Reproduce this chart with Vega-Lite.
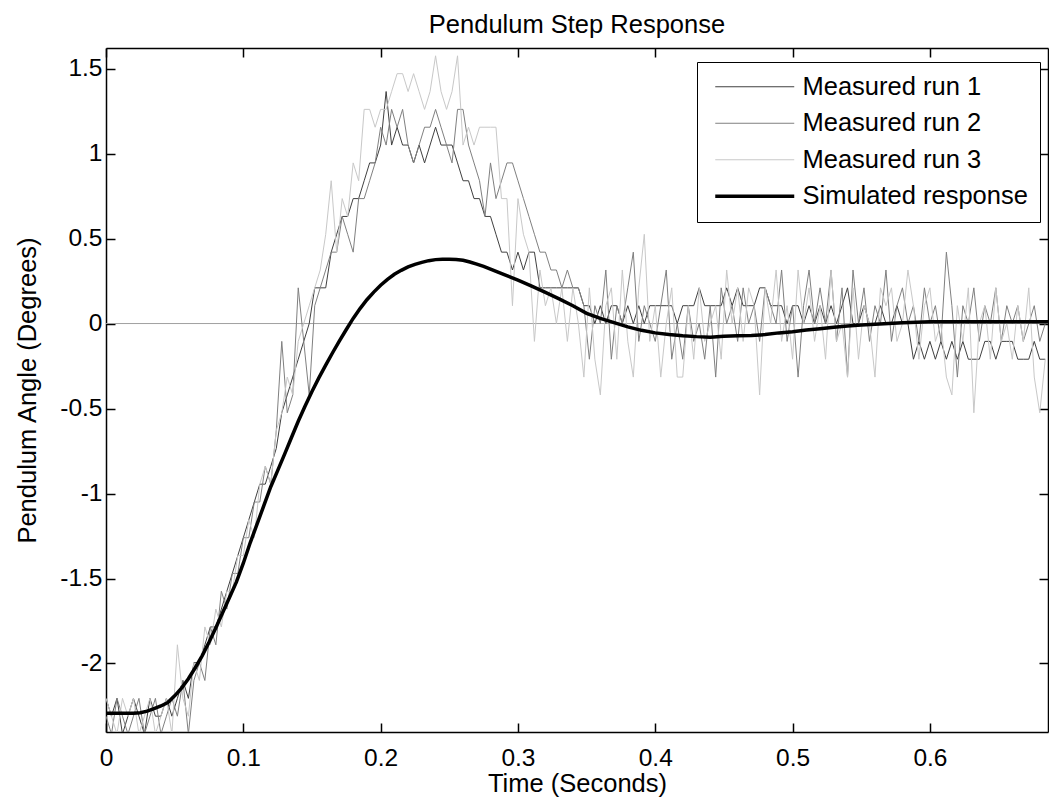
{
 "$schema": "https://vega.github.io/schema/vega-lite/v6.json",
 "width": 942, "height": 684,
 "autosize": {"type": "none"},
 "padding": {"left": 106, "top": 48, "right": 1, "bottom": 71},
 "background": "white",
 "title": {"text": "Pendulum Step Response", "fontSize": 25.5, "font": "Liberation Sans", "fontWeight": "normal", "color": "#000", "anchor": "middle", "frame": "group", "baseline": "alphabetic", "offset": -11},
 "config": {
  "view": {"stroke": null},
  "font": "Liberation Sans",
  "axis": {"domainColor": "#000", "domainWidth": 1.5, "tickColor": "#000", "tickWidth": 1.5, "labelColor": "#000", "titleColor": "#000", "labelFont": "Liberation Sans", "titleFont": "Liberation Sans", "labelFontSize": 24.5, "titleFontSize": 25.5, "titleFontWeight": "normal", "grid": false, "labelFlush": false, "labelOverlap": false},
  "legend": {"symbolType": "M-4,0H4", "symbolSize": 390, "labelFontSize": 25.5, "labelFont": "Liberation Sans", "labelColor": "#000", "strokeColor": "#000", "fillColor": "#fff", "padding": 12, "rowPadding": 9.5, "symbolOffset": 33, "labelOffset": 35, "labelLimit": 400}
 },
 "datasets": {
  "meas": [
{"t":0,"r1":-2.205,"r2":-2.31,"r3":-2.205},
{"t":0.004,"r1":-2.31,"r2":-2.415,"r3":-2.31},
{"t":0.008,"r1":-2.205,"r2":-2.205,"r3":-2.415},
{"t":0.012,"r1":-2.415,"r2":-2.31,"r3":-2.205},
{"t":0.016,"r1":-2.31,"r2":-2.415,"r3":-2.31},
{"t":0.02,"r1":-2.205,"r2":-2.31,"r3":-2.205},
{"t":0.024,"r1":-2.31,"r2":-2.205,"r3":-2.415},
{"t":0.028,"r1":-2.415,"r2":-2.415,"r3":-2.31},
{"t":0.032,"r1":-2.205,"r2":-2.31,"r3":-2.205},
{"t":0.036,"r1":-2.31,"r2":-2.205,"r3":-2.415},
{"t":0.04,"r1":-2.31,"r2":-2.415,"r3":-2.31},
{"t":0.044,"r1":-2.205,"r2":-2.31,"r3":-2.205},
{"t":0.048,"r1":-2.31,"r2":-2.205,"r3":-2.415},
{"t":0.052,"r1":-2.205,"r2":-2.31,"r3":-1.89},
{"t":0.056,"r1":-2.1,"r2":-2.1,"r3":-2.205},
{"t":0.06,"r1":-2.205,"r2":-2.415,"r3":-2.31},
{"t":0.064,"r1":-1.995,"r2":-2.1,"r3":-1.995},
{"t":0.068,"r1":-1.995,"r2":-1.995,"r3":-2.1},
{"t":0.072,"r1":-1.89,"r2":-2.1,"r3":-1.785},
{"t":0.076,"r1":-1.785,"r2":-1.785,"r3":-1.89},
{"t":0.08,"r1":-1.785,"r2":-1.89,"r3":-1.68},
{"t":0.084,"r1":-1.68,"r2":-1.575,"r3":-1.785},
{"t":0.088,"r1":-1.575,"r2":-1.68,"r3":-1.575},
{"t":0.092,"r1":-1.47,"r2":-1.47,"r3":-1.575},
{"t":0.096,"r1":-1.365,"r2":-1.47,"r3":-1.365},
{"t":0.1,"r1":-1.26,"r2":-1.26,"r3":-1.365},
{"t":0.104,"r1":-1.155,"r2":-1.26,"r3":-1.155},
{"t":0.108,"r1":-1.05,"r2":-1.05,"r3":-1.26},
{"t":0.112,"r1":-0.945,"r2":-1.05,"r3":-0.945},
{"t":0.116,"r1":-0.945,"r2":-0.84,"r3":-0.84},
{"t":0.12,"r1":-0.84,"r2":-0.945,"r3":-0.945},
{"t":0.124,"r1":-0.735,"r2":-0.63,"r3":-0.63},
{"t":0.128,"r1":-0.525,"r2":-0.105,"r3":-0.525},
{"t":0.132,"r1":-0.42,"r2":-0.525,"r3":-0.315},
{"t":0.136,"r1":-0.315,"r2":-0.42,"r3":-0.42},
{"t":0.14,"r1":-0.21,"r2":0.21,"r3":-0.105},
{"t":0.144,"r1":-0.105,"r2":-0.105,"r3":0},
{"t":0.148,"r1":0,"r2":-0.42,"r3":0.105},
{"t":0.152,"r1":0.21,"r2":0.105,"r3":0.21},
{"t":0.156,"r1":0.21,"r2":0.21,"r3":0.315},
{"t":0.16,"r1":0.21,"r2":0.315,"r3":0.525},
{"t":0.164,"r1":0.42,"r2":0.42,"r3":0.84},
{"t":0.168,"r1":0.525,"r2":0.42,"r3":0.42},
{"t":0.172,"r1":0.63,"r2":0.63,"r3":0.735},
{"t":0.176,"r1":0.63,"r2":0.525,"r3":0.63},
{"t":0.18,"r1":0.735,"r2":0.42,"r3":0.945},
{"t":0.184,"r1":0.735,"r2":0.735,"r3":0.84},
{"t":0.188,"r1":0.84,"r2":0.735,"r3":1.26},
{"t":0.192,"r1":0.945,"r2":0.84,"r3":1.26},
{"t":0.196,"r1":0.945,"r2":0.945,"r3":1.155},
{"t":0.2,"r1":1.05,"r2":1.155,"r3":1.26},
{"t":0.204,"r1":1.365,"r2":1.05,"r3":1.26},
{"t":0.208,"r1":1.05,"r2":1.26,"r3":1.365},
{"t":0.212,"r1":1.155,"r2":1.155,"r3":1.47},
{"t":0.216,"r1":1.05,"r2":1.26,"r3":1.47},
{"t":0.22,"r1":1.05,"r2":1.05,"r3":1.365},
{"t":0.224,"r1":0.945,"r2":0.945,"r3":1.47},
{"t":0.228,"r1":1.05,"r2":1.05,"r3":1.365},
{"t":0.232,"r1":0.945,"r2":1.155,"r3":1.26},
{"t":0.236,"r1":1.05,"r2":1.155,"r3":1.365},
{"t":0.24,"r1":1.155,"r2":1.26,"r3":1.575},
{"t":0.244,"r1":1.05,"r2":1.155,"r3":1.365},
{"t":0.248,"r1":1.05,"r2":1.05,"r3":1.26},
{"t":0.252,"r1":1.05,"r2":0.945,"r3":1.365},
{"t":0.256,"r1":0.945,"r2":1.26,"r3":1.575},
{"t":0.26,"r1":0.84,"r2":1.26,"r3":1.05},
{"t":0.264,"r1":0.84,"r2":1.05,"r3":1.155},
{"t":0.268,"r1":0.735,"r2":0.945,"r3":1.05},
{"t":0.272,"r1":0.735,"r2":0.84,"r3":1.155},
{"t":0.276,"r1":0.63,"r2":0.63,"r3":1.155},
{"t":0.28,"r1":0.63,"r2":0.945,"r3":1.155},
{"t":0.284,"r1":0.525,"r2":0.735,"r3":1.155},
{"t":0.288,"r1":0.42,"r2":0.84,"r3":0.735},
{"t":0.292,"r1":0.42,"r2":0.945,"r3":0.735},
{"t":0.296,"r1":0.315,"r2":0.945,"r3":0.105},
{"t":0.3,"r1":0.42,"r2":0.84,"r3":0.735},
{"t":0.304,"r1":0.315,"r2":0.735,"r3":0.525},
{"t":0.308,"r1":0.42,"r2":0.63,"r3":0.42},
{"t":0.312,"r1":0.42,"r2":0.525,"r3":-0.105},
{"t":0.316,"r1":0.21,"r2":0.42,"r3":0.315},
{"t":0.32,"r1":0.21,"r2":0.42,"r3":0.105},
{"t":0.324,"r1":0.21,"r2":0.315,"r3":0.21},
{"t":0.328,"r1":0.21,"r2":0.315,"r3":0},
{"t":0.332,"r1":0.21,"r2":0.21,"r3":0.21},
{"t":0.336,"r1":0.21,"r2":0.315,"r3":-0.105},
{"t":0.34,"r1":0.21,"r2":0.21,"r3":0.21},
{"t":0.344,"r1":0.21,"r2":0.21,"r3":0},
{"t":0.348,"r1":0.105,"r2":0.105,"r3":-0.315},
{"t":0.352,"r1":0.105,"r2":-0.21,"r3":0.21},
{"t":0.356,"r1":0,"r2":0.105,"r3":-0.21},
{"t":0.36,"r1":0.105,"r2":0,"r3":-0.42},
{"t":0.364,"r1":0,"r2":0.315,"r3":0.105},
{"t":0.368,"r1":0.105,"r2":-0.21,"r3":0.21},
{"t":0.372,"r1":0.105,"r2":0.105,"r3":-0.21},
{"t":0.376,"r1":0,"r2":0,"r3":0.315},
{"t":0.38,"r1":0.105,"r2":0.21,"r3":-0.105},
{"t":0.384,"r1":0,"r2":0.42,"r3":-0.315},
{"t":0.388,"r1":0.105,"r2":-0.105,"r3":0.21},
{"t":0.392,"r1":0,"r2":0.105,"r3":0.525},
{"t":0.396,"r1":0.105,"r2":0,"r3":-0.105},
{"t":0.4,"r1":0.105,"r2":-0.105,"r3":0.105},
{"t":0.404,"r1":0.105,"r2":0.105,"r3":-0.315},
{"t":0.408,"r1":0.105,"r2":0.315,"r3":0},
{"t":0.412,"r1":0.105,"r2":-0.21,"r3":0.21},
{"t":0.416,"r1":0,"r2":0,"r3":-0.315},
{"t":0.42,"r1":0.105,"r2":-0.21,"r3":-0.315},
{"t":0.424,"r1":0.105,"r2":0.105,"r3":0.105},
{"t":0.428,"r1":0.105,"r2":-0.105,"r3":-0.21},
{"t":0.432,"r1":0.21,"r2":0,"r3":0.21},
{"t":0.436,"r1":0.105,"r2":-0.21,"r3":-0.105},
{"t":0.44,"r1":0.105,"r2":0.105,"r3":0},
{"t":0.444,"r1":0.105,"r2":-0.315,"r3":0.105},
{"t":0.448,"r1":0.105,"r2":0.21,"r3":-0.21},
{"t":0.452,"r1":0.21,"r2":0,"r3":0.315},
{"t":0.456,"r1":0.105,"r2":0.105,"r3":0},
{"t":0.46,"r1":0.21,"r2":-0.105,"r3":0.21},
{"t":0.464,"r1":0.105,"r2":0.21,"r3":-0.105},
{"t":0.468,"r1":0.105,"r2":0,"r3":0.21},
{"t":0.472,"r1":0.105,"r2":0.105,"r3":0.105},
{"t":0.476,"r1":0.21,"r2":-0.105,"r3":-0.42},
{"t":0.48,"r1":0.21,"r2":0.21,"r3":0.21},
{"t":0.484,"r1":0.105,"r2":0.105,"r3":0},
{"t":0.488,"r1":0.105,"r2":0,"r3":0.315},
{"t":0.492,"r1":0.105,"r2":0.315,"r3":-0.105},
{"t":0.496,"r1":0,"r2":-0.105,"r3":0.105},
{"t":0.5,"r1":0.105,"r2":0.105,"r3":-0.21},
{"t":0.504,"r1":0.105,"r2":-0.315,"r3":0.315},
{"t":0.508,"r1":0,"r2":0.105,"r3":0},
{"t":0.512,"r1":0.105,"r2":0.315,"r3":0.21},
{"t":0.516,"r1":0,"r2":0,"r3":-0.105},
{"t":0.52,"r1":0.105,"r2":0.21,"r3":0.105},
{"t":0.524,"r1":0,"r2":0,"r3":-0.21},
{"t":0.528,"r1":0.105,"r2":0.315,"r3":0.315},
{"t":0.532,"r1":0,"r2":-0.105,"r3":-0.105},
{"t":0.536,"r1":0.105,"r2":0.21,"r3":0},
{"t":0.54,"r1":0.21,"r2":-0.315,"r3":-0.315},
{"t":0.544,"r1":0,"r2":0.315,"r3":0.21},
{"t":0.548,"r1":0,"r2":0,"r3":-0.21},
{"t":0.552,"r1":0.105,"r2":0.21,"r3":0.105},
{"t":0.556,"r1":0,"r2":-0.105,"r3":0},
{"t":0.56,"r1":0,"r2":0.105,"r3":-0.315},
{"t":0.564,"r1":0.105,"r2":0,"r3":0.21},
{"t":0.568,"r1":0,"r2":0.315,"r3":0.105},
{"t":0.572,"r1":0,"r2":-0.105,"r3":0.21},
{"t":0.576,"r1":0.105,"r2":0.105,"r3":-0.105},
{"t":0.58,"r1":0,"r2":0.21,"r3":0},
{"t":0.584,"r1":0,"r2":0,"r3":0.315},
{"t":0.588,"r1":-0.21,"r2":0.105,"r3":0.105},
{"t":0.592,"r1":-0.105,"r2":-0.105,"r3":-0.21},
{"t":0.596,"r1":-0.21,"r2":0.21,"r3":0.105},
{"t":0.6,"r1":-0.105,"r2":0,"r3":0.21},
{"t":0.604,"r1":-0.21,"r2":0.105,"r3":-0.105},
{"t":0.608,"r1":-0.105,"r2":-0.105,"r3":0},
{"t":0.612,"r1":-0.21,"r2":0.42,"r3":-0.315},
{"t":0.616,"r1":-0.105,"r2":0.105,"r3":-0.42},
{"t":0.62,"r1":-0.21,"r2":-0.315,"r3":0.105},
{"t":0.624,"r1":-0.105,"r2":0.105,"r3":-0.105},
{"t":0.628,"r1":-0.21,"r2":0,"r3":0.21},
{"t":0.632,"r1":-0.21,"r2":0.21,"r3":-0.525},
{"t":0.636,"r1":-0.21,"r2":-0.105,"r3":0},
{"t":0.64,"r1":-0.105,"r2":0.105,"r3":0.105},
{"t":0.644,"r1":-0.105,"r2":0,"r3":-0.21},
{"t":0.648,"r1":-0.21,"r2":0.21,"r3":0.21},
{"t":0.652,"r1":-0.105,"r2":-0.105,"r3":-0.105},
{"t":0.656,"r1":-0.105,"r2":0.105,"r3":0},
{"t":0.66,"r1":-0.105,"r2":0,"r3":-0.21},
{"t":0.664,"r1":-0.21,"r2":0.105,"r3":0.105},
{"t":0.668,"r1":-0.21,"r2":-0.105,"r3":-0.105},
{"t":0.672,"r1":-0.21,"r2":0,"r3":0.21},
{"t":0.676,"r1":-0.105,"r2":0.105,"r3":-0.315},
{"t":0.68,"r1":-0.21,"r2":-0.105,"r3":-0.525},
{"t":0.684,"r1":-0.21,"r2":0,"r3":-0.21}
  ],
  "sim": [
{"t":0,"v":-2.293,"series":"sim"},{"t":0.01,"v":-2.293,"series":"sim"},{"t":0.02,"v":-2.293,"series":"sim"},{"t":0.025,"v":-2.29,"series":"sim"},{"t":0.03,"v":-2.28,"series":"sim"},{"t":0.035,"v":-2.265,"series":"sim"},{"t":0.04,"v":-2.25,"series":"sim"},{"t":0.045,"v":-2.23,"series":"sim"},{"t":0.05,"v":-2.19,"series":"sim"},{"t":0.055,"v":-2.145,"series":"sim"},{"t":0.06,"v":-2.09,"series":"sim"},{"t":0.065,"v":-2.025,"series":"sim"},{"t":0.07,"v":-1.955,"series":"sim"},{"t":0.075,"v":-1.875,"series":"sim"},{"t":0.08,"v":-1.79,"series":"sim"},{"t":0.085,"v":-1.7,"series":"sim"},{"t":0.09,"v":-1.61,"series":"sim"},{"t":0.095,"v":-1.52,"series":"sim"},{"t":0.1,"v":-1.41,"series":"sim"},{"t":0.105,"v":-1.29,"series":"sim"},{"t":0.11,"v":-1.18,"series":"sim"},{"t":0.115,"v":-1.07,"series":"sim"},{"t":0.12,"v":-0.96,"series":"sim"},{"t":0.125,"v":-0.865,"series":"sim"},{"t":0.13,"v":-0.77,"series":"sim"},{"t":0.135,"v":-0.672,"series":"sim"},{"t":0.14,"v":-0.575,"series":"sim"},{"t":0.145,"v":-0.485,"series":"sim"},{"t":0.15,"v":-0.4,"series":"sim"},{"t":0.155,"v":-0.32,"series":"sim"},{"t":0.16,"v":-0.245,"series":"sim"},{"t":0.165,"v":-0.172,"series":"sim"},{"t":0.17,"v":-0.102,"series":"sim"},{"t":0.175,"v":-0.035,"series":"sim"},{"t":0.18,"v":0.03,"series":"sim"},{"t":0.185,"v":0.088,"series":"sim"},{"t":0.19,"v":0.14,"series":"sim"},{"t":0.195,"v":0.185,"series":"sim"},{"t":0.2,"v":0.225,"series":"sim"},{"t":0.205,"v":0.26,"series":"sim"},{"t":0.21,"v":0.29,"series":"sim"},{"t":0.215,"v":0.313,"series":"sim"},{"t":0.22,"v":0.333,"series":"sim"},{"t":0.225,"v":0.348,"series":"sim"},{"t":0.23,"v":0.36,"series":"sim"},{"t":0.235,"v":0.37,"series":"sim"},{"t":0.24,"v":0.376,"series":"sim"},{"t":0.245,"v":0.378,"series":"sim"},{"t":0.25,"v":0.378,"series":"sim"},{"t":0.255,"v":0.377,"series":"sim"},{"t":0.26,"v":0.372,"series":"sim"},{"t":0.265,"v":0.362,"series":"sim"},{"t":0.27,"v":0.35,"series":"sim"},{"t":0.275,"v":0.336,"series":"sim"},{"t":0.28,"v":0.32,"series":"sim"},{"t":0.285,"v":0.304,"series":"sim"},{"t":0.29,"v":0.288,"series":"sim"},{"t":0.295,"v":0.272,"series":"sim"},{"t":0.3,"v":0.255,"series":"sim"},{"t":0.31,"v":0.22,"series":"sim"},{"t":0.32,"v":0.183,"series":"sim"},{"t":0.33,"v":0.145,"series":"sim"},{"t":0.34,"v":0.105,"series":"sim"},{"t":0.35,"v":0.06,"series":"sim"},{"t":0.36,"v":0.03,"series":"sim"},{"t":0.37,"v":0.005,"series":"sim"},{"t":0.38,"v":-0.02,"series":"sim"},{"t":0.39,"v":-0.04,"series":"sim"},{"t":0.4,"v":-0.055,"series":"sim"},{"t":0.41,"v":-0.065,"series":"sim"},{"t":0.42,"v":-0.072,"series":"sim"},{"t":0.43,"v":-0.077,"series":"sim"},{"t":0.44,"v":-0.08,"series":"sim"},{"t":0.45,"v":-0.075,"series":"sim"},{"t":0.46,"v":-0.072,"series":"sim"},{"t":0.47,"v":-0.07,"series":"sim"},{"t":0.48,"v":-0.065,"series":"sim"},{"t":0.49,"v":-0.055,"series":"sim"},{"t":0.5,"v":-0.048,"series":"sim"},{"t":0.51,"v":-0.038,"series":"sim"},{"t":0.52,"v":-0.03,"series":"sim"},{"t":0.53,"v":-0.022,"series":"sim"},{"t":0.54,"v":-0.015,"series":"sim"},{"t":0.55,"v":-0.008,"series":"sim"},{"t":0.56,"v":-0.004,"series":"sim"},{"t":0.57,"v":0,"series":"sim"},{"t":0.58,"v":0.004,"series":"sim"},{"t":0.59,"v":0.008,"series":"sim"},{"t":0.6,"v":0.01,"series":"sim"},{"t":0.62,"v":0.01,"series":"sim"},{"t":0.64,"v":0.01,"series":"sim"},{"t":0.66,"v":0.01,"series":"sim"},{"t":0.686,"v":0.01,"series":"sim"}
  ]
 },
 "layer": [
  {
   "data": {"values": [{"level": 0}]},
   "mark": {"type": "rule", "color": "#a0a0a0", "strokeWidth": 1},
   "encoding": {"y": {"field": "level", "type": "quantitative", "axis": null}}
  },
  {
   "data": {"name": "meas"},
   "transform": [{"fold": ["r1", "r2", "r3"], "as": ["series", "v"]}],
   "mark": {"type": "line", "clip": true, "strokeWidth": 1},
   "encoding": {
    "x": {"field": "t", "type": "quantitative", "scale": {"domain": [0, 0.686], "nice": false, "zero": false},
      "axis": {"orient": "bottom", "title": "Time (Seconds)", "values": [0, 0.1, 0.2, 0.3, 0.4, 0.5, 0.6], "labelExpr": "'' + datum.value", "tickSize": -9, "labelPadding": 23, "titlePadding": 2}},
    "y": {"field": "v", "type": "quantitative", "scale": {"domain": [-2.403, 1.621], "nice": false, "zero": false},
      "axis": {"orient": "left", "title": "Pendulum Angle (Degrees)", "values": [-2, -1.5, -1, -0.5, 0, 0.5, 1, 1.5], "labelExpr": "'' + datum.value", "tickSize": -9, "labelPadding": 13, "titlePadding": 19}},
    "color": {"field": "series", "type": "nominal", "scale": {"domain": ["r1", "r2", "r3", "sim"], "range": ["#404040", "#808080", "#c8c8c8", "#000000"]},
      "legend": {"title": null, "orient": "none", "legendX": 591, "legendY": 14,
        "labelExpr": "datum.label == 'r1' ? 'Measured run 1' : datum.label == 'r2' ? 'Measured run 2' : datum.label == 'r3' ? 'Measured run 3' : 'Simulated response'",
        "encode": {"symbols": {"update": {"strokeWidth": {"signal": "datum.value == 'sim' ? 3.5 : 1"}}}}}}
   }
  },
  {
   "data": {"name": "sim"},
   "mark": {"type": "line", "clip": true, "strokeWidth": 3.5},
   "encoding": {
    "x": {"field": "t", "type": "quantitative", "scale": {"domain": [0, 0.686], "nice": false, "zero": false},
      "axis": {"orient": "top", "title": null, "labels": false, "values": [0, 0.1, 0.2, 0.3, 0.4, 0.5, 0.6], "tickSize": -9}},
    "y": {"field": "v", "type": "quantitative", "scale": {"domain": [-2.403, 1.621], "nice": false, "zero": false},
      "axis": {"orient": "right", "title": null, "labels": false, "values": [-2, -1.5, -1, -0.5, 0, 0.5, 1, 1.5], "tickSize": -9}},
    "color": {"field": "series", "type": "nominal"}
   }
  }
 ],
 "resolve": {"axis": {"x": "independent", "y": "independent"}}
}
